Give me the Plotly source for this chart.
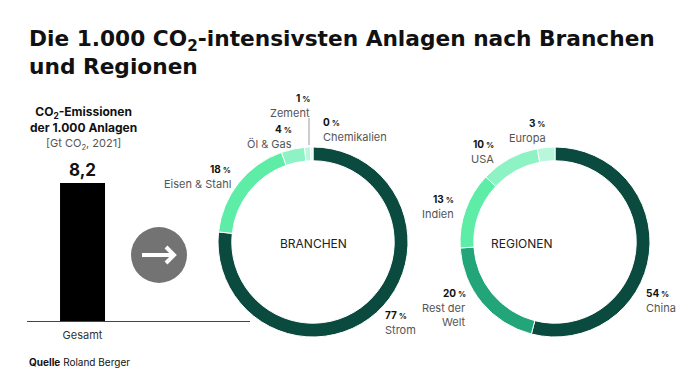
import plotly.graph_objects as go

W, H = 700, 392

# ---------------- data ----------------
bar_categories = ["Gesamt"]
bar_values = [8.2]

branchen_labels = ["Strom", "Eisen & Stahl", "Öl & Gas", "Zement", "Chemikalien"]
branchen_values = [77, 18, 4, 1, 0.4]
branchen_pct = [77, 18, 4, 1, 0]

regionen_labels = ["China", "Rest der<br>Welt", "Indien", "USA", "Europa"]
regionen_values = [54, 20, 13, 10, 3]

# ---------------- styles ----------------
FONT = "Inter"
TITLE_FONT = "DejaVu Sans"
branchen_colors = ["#0b4a3e", "#5eeda7", "#8ef3c4", "#b9f7dc", "#d8fbec"]
regionen_colors = ["#0b4a3e", "#22a679", "#5eeda7", "#8ef3c4", "#b9f7dc"]


def px(x):
    return x / W


def py(y):
    return 1 - y / H


fig = go.Figure()

# bar
fig.add_trace(go.Bar(
    x=[0.249], y=bar_values, width=0.2018,
    marker=dict(color="#000000", line=dict(width=0)),
    text=[f"{v:.1f}".replace(".", ",") for v in bar_values],
    textposition="outside", cliponaxis=False,
    textfont=dict(family=FONT, size=17, color="#111111", weight="bold"),
    hoverinfo="skip", showlegend=False,
))

fig.update_xaxes(domain=[px(27), px(250)], range=[0, 1],
                 tickvals=[0.249], ticktext=bar_categories,
                 showline=True, linecolor="#444444", linewidth=1,
                 showgrid=False, zeroline=False, ticks="", ticklabelstandoff=4,
                 tickfont=dict(family=FONT, size=11, color="#333333"))
fig.update_yaxes(domain=[py(321), py(152.7)], range=[0, 10],
                 visible=False, showgrid=False, zeroline=False)

# donuts
for vals, labs, cols, (x0, x1) in [
    (branchen_values, branchen_labels, branchen_colors, (218, 408)),
    (regionen_values, regionen_labels, regionen_colors, (460, 650)),
]:
    fig.add_trace(go.Pie(
        values=vals, labels=labs, sort=False, direction="clockwise",
        rotation=0, hole=0.855, textinfo="none",
        marker=dict(colors=cols, line=dict(color="white", width=1)),
        domain=dict(x=[px(x0), px(x1)], y=[py(337), py(147)]),
        showlegend=False,
    ))

annotations = []


def lab(x, y, pct, name, anchor):
    annotations.append(dict(
        x=px(x), y=py(y), xref="paper", yref="paper",
        xanchor=anchor, yanchor="middle", showarrow=False,
        text=f"<b>{pct}</b><span style='font-size:8px'><b> %</b></span>",
        font=dict(family=FONT, size=10, color="#111111"),
    ))
    annotations.append(dict(
        x=px(x), y=py(y + 6), xref="paper", yref="paper",
        xanchor=anchor, yanchor="top", showarrow=False,
        text=name, align="right" if anchor == "right" else "left",
        font=dict(family=FONT, size=11, color="#555555"),
    ))


b_pos = [(383, 315, "left"), (233, 169, "right"), (294, 129, "right"),
         (312, 98, "right"), (321, 122, "left")]
for (x, y, a), p, n in zip(b_pos, branchen_pct, branchen_labels):
    lab(x, y, p, n, a)

r_pos = [(644, 293, "left"), (468, 293, "right"), (456, 199, "right"),
         (496, 144, "right"), (548, 123, "right")]
for (x, y, a), p, n in zip(r_pos, regionen_values, regionen_labels):
    lab(x, y, p, n, a)

# center labels
for cx, t in [(313, "BRANCHEN"), (555, "REGIONEN")]:
    annotations.append(dict(x=px(cx), y=py(243), xref="paper", yref="paper",
                            showarrow=False, text=t,
                            font=dict(family=FONT, size=12, color="#222222")))

# bar header
annotations.append(dict(
    x=px(83), y=py(102), xref="paper", yref="paper", xanchor="center", yanchor="top",
    showarrow=False, align="center",
    text="<b>CO<sub>2</sub>-Emissionen</b><br><b>der 1.000 Anlagen</b><br>"
         "<span style='color:#555555;font-size:11px'>[Gt CO<sub>2</sub>, 2021]</span>",
    font=dict(family=FONT, size=12, color="#111111"),
))

# title
annotations.append(dict(
    x=px(27), y=py(24), xref="paper", yref="paper", xanchor="left", yanchor="top",
    showarrow=False, align="left",
    text="<b>Die 1.000 CO<sub>2</sub>-intensivsten Anlagen nach Branchen</b><br>"
         "<b>und Regionen</b>",
    font=dict(family=TITLE_FONT, size=21.7, color="#111111"),
))

# source
annotations.append(dict(
    x=px(27), y=py(362), xref="paper", yref="paper", xanchor="left", yanchor="middle",
    showarrow=False, text="<b>Quelle</b> Roland Berger",
    font=dict(family=FONT, size=10, color="#111111"),
))

shapes = [
    # arrow circle
    dict(type="circle", xref="paper", yref="paper",
         x0=px(131), x1=px(187), y0=py(283), y1=py(227),
         fillcolor="#737373", line=dict(width=0)),
    # arrow
    dict(type="path", xref="paper", yref="paper",
         path=f"M {px(142)} {py(255)} L {px(174)} {py(255)} "
              f"M {px(166)} {py(247)} L {px(174)} {py(255)} L {px(166)} {py(263)}",
         line=dict(color="white", width=4)),
    # leader line for Zement
    dict(type="line", xref="paper", yref="paper",
         x0=px(309), x1=px(309), y0=py(118), y1=py(145),
         line=dict(color="#999999", width=1)),
]

fig.update_layout(
    width=W, height=H, margin=dict(l=0, r=0, t=0, b=0),
    paper_bgcolor="white", plot_bgcolor="white",
    annotations=annotations, shapes=shapes, showlegend=False,
    font=dict(family=FONT),
)

fig.write_html("out.html", config={"displayModeBar": False},
               post_script="document.body.style.margin='0';document.body.style.padding='0';")
